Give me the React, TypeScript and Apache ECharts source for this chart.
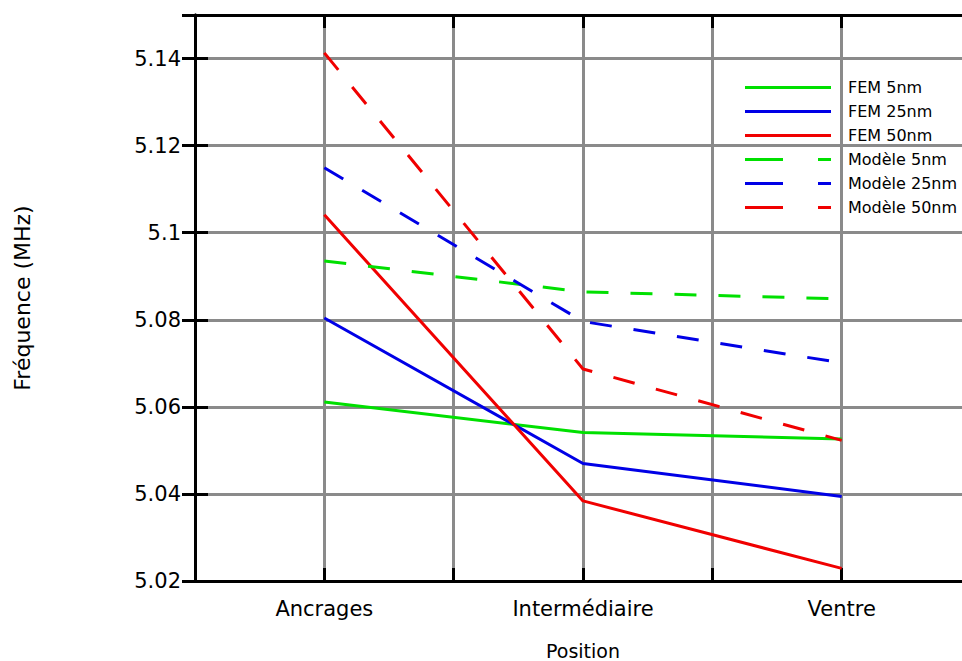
import React, { useEffect, useRef } from 'react';
import * as echarts from 'echarts';

const categories = ['Ancrages', 'Intermédiaire', 'Ventre'];
const seriesNames = ['FEM 5nm', 'FEM 25nm', 'FEM 50nm', 'Modèle 5nm', 'Modèle 25nm', 'Modèle 50nm'];
const fem5 = [5.0611, 5.0541, 5.0526];
const fem25 = [5.0804, 5.047, 5.0394];
const fem50 = [5.1041, 5.0384, 5.0229];
const mod5 = [5.0935, 5.0864, 5.0848];
const mod25 = [5.1149, 5.0796, 5.0701];
const mod50 = [5.1413, 5.0687, 5.0523];
const yMin = 5.02;
const yMax = 5.15;
const yStep = 0.02;

const GREEN = '#00e000';
const BLUE = '#0000e6';
const RED = '#f00000';
const FONT = 'DejaVu Sans';

const SOLID_ICON = 'path://M0,0h86v3h-86z';
const DASH_ICON = 'path://M0,0h38v3h-38zM73,0h13v3h-13z';

// category i sits at x = 2*i + 1 on a 0..6 scale
const catPos = (i: number) => 2 * i + 1;
const toPoints = (vals: number[]) => vals.map((v, i) => [catPos(i), v]);

export default function App() {
  const ref = useRef<HTMLDivElement>(null);
  useEffect(() => {
    if (!ref.current) return;
    const chart = echarts.init(ref.current, undefined, { renderer: 'svg' });
    const allVals = [fem5, fem25, fem50, mod5, mod25, mod50];
    const colors = [GREEN, BLUE, RED, GREEN, BLUE, RED];
    const series = allVals.map((vals, k) => ({
      name: seriesNames[k],
      type: 'line',
      data: toPoints(vals),
      showSymbol: false,
      symbol: 'none',
      color: colors[k],
      lineStyle: { color: colors[k], width: 3, type: k < 3 ? 'solid' : [22, 22] },
      itemStyle: { color: colors[k] },
      z: 3,
    }));
    const xLabel = (v: number) => {
      const idx = categories.findIndex((_, i) => catPos(i) === v);
      return idx >= 0 ? categories[idx] : '';
    };
    const axisLineStyle = { color: '#000', width: 3 };
    const tickStyle = { inside: true, length: 13, lineStyle: { color: '#000', width: 3 } };
    const gridLine = { show: true, showMinLine: false, showMaxLine: false, lineStyle: { color: '#8a8a8a', width: 3 } };
    chart.setOption({
      animation: false,
      backgroundColor: '#fff',
      grid: { left: 195, top: 15, width: 776, height: 566, containLabel: false, outerBoundsMode: 'none' },
      legend: {
        orient: 'vertical',
        left: 745,
        top: 79,
        padding: 0,
        itemWidth: 86,
        itemHeight: 3,
        itemGap: 7,
        textStyle: { fontFamily: FONT, fontSize: 16, color: '#000', lineHeight: 17, padding: [0, 0, 0, 12] },
        data: seriesNames.map((n, k) => ({
          name: n,
          icon: k < 3 ? SOLID_ICON : DASH_ICON,
          itemStyle: { color: colors[k] },
        })),
      },
      xAxis: [
        {
          type: 'value',
          min: 0,
          max: 6,
          interval: 1,
          position: 'bottom',
          axisLine: { show: true, lineStyle: axisLineStyle },
          axisTick: tickStyle,
          splitLine: gridLine,
          axisLabel: { formatter: xLabel, fontFamily: FONT, fontSize: 21, color: '#000', margin: 17 },
          name: 'Position',
          nameLocation: 'middle',
          nameGap: 60,
          nameTextStyle: { fontFamily: FONT, fontSize: 19, color: '#000' },
        },
        {
          type: 'value',
          min: 0,
          max: 6,
          interval: 1,
          position: 'top',
          axisLine: { show: true, lineStyle: axisLineStyle },
          axisTick: tickStyle,
          splitLine: { show: false },
          axisLabel: { show: false },
        },
      ],
      yAxis: [
        {
          type: 'value',
          min: yMin,
          max: yMax,
          interval: yStep,
          position: 'left',
          axisLine: { show: true, lineStyle: axisLineStyle },
          axisTick: tickStyle,
          splitLine: gridLine,
          axisLabel: { showMaxLabel: false, fontFamily: FONT, fontSize: 21, color: '#000', margin: 14 },
          name: 'Fréquence (MHz)',
          nameLocation: 'middle',
          nameRotate: 90,
          nameGap: 162,
          nameTextStyle: { fontFamily: FONT, fontSize: 22, color: '#000' },
        },
        {
          type: 'value',
          min: yMin,
          max: yMax,
          interval: yStep,
          position: 'right',
          axisLine: { show: true, lineStyle: axisLineStyle },
          axisTick: tickStyle,
          splitLine: { show: false },
          axisLabel: { show: false },
        },
      ],
      series,
    });
    return () => chart.dispose();
  }, []);
  return (
    <div
      ref={ref}
      style={{ position: 'fixed', left: 0, top: 0, width: 962, height: 661, background: '#fff' }}
    />
  );
}
